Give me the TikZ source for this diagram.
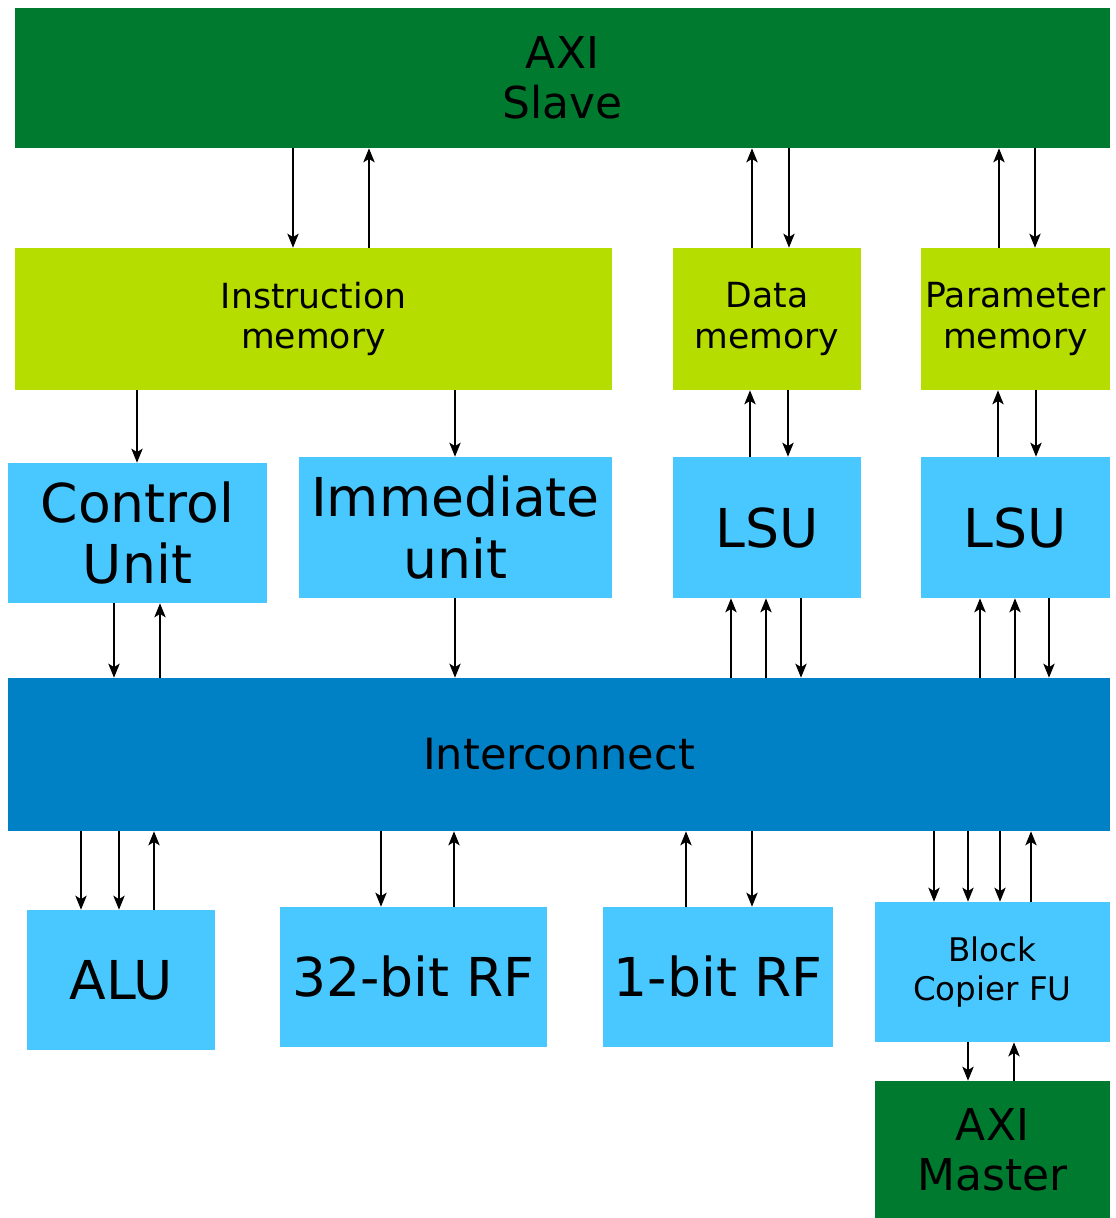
\documentclass[tikz,border=0pt]{standalone}
\usepackage{fontspec}
\setmainfont{DejaVu Sans}
\usetikzlibrary{arrows.meta}

\definecolor{axigreen}{RGB}{0,122,46}
\definecolor{memlime}{RGB}{181,221,0}
\definecolor{fublue}{RGB}{72,200,255}
\definecolor{icblue}{RGB}{0,128,197}

\newcommand\axifont{\fontsize{25}{28.5}\selectfont}
\newcommand\memfont{\fontsize{19.7}{23}\selectfont}
\newcommand\bcfont{\fontsize{18.5}{22}\selectfont}
\newcommand\fufont{\fontsize{30.5}{35}\selectfont}
\newcommand\icfont{\fontsize{24.5}{28}\selectfont}

\begin{document}
\begin{tikzpicture}[x=0.02cm, y=-0.02cm, >={Stealth[length=8pt,width=6.5pt,inset=2pt]},
    box/.style={inner sep=0pt, align=center},
    sz/.style 2 args={minimum width=#1*0.02cm, minimum height=#2*0.02cm},
    link/.style={line width=0.6pt}]
  \useasboundingbox (0,0) rectangle (1116,1218);

  % AXI slave (oben)
  \node[box, fill=axigreen, sz={1095}{140}, font=\axifont] (slave) at (562.5,78) {AXI\\Slave};

  % Speicher
  \node[box, fill=memlime, sz={597}{142}, font=\memfont] (imem) at (313.5,319) {Instruction\\memory};
  \node[box, fill=memlime, sz={188}{142}, font=\memfont] (dmem) at (767,319) {Data\\memory};
  \node[box, fill=memlime, sz={189}{142}, font=\memfont] (pmem) at (1015.5,319) {Parameter\\memory};

  % Einheiten
  \node[box, fill=fublue, sz={259}{140}, font=\fufont] (ctrl) at (137.5,533) {Control\\Unit};
  \node[box, fill=fublue, sz={313}{141}, font=\fufont] (imm) at (455.5,527.5) {Immediate\\unit};
  \node[box, fill=fublue, sz={188}{141}, font=\fufont] (lsua) at (767,527.5) {LSU};
  \node[box, fill=fublue, sz={189}{141}, font=\fufont] (lsub) at (1015.5,527.5) {LSU};

  % Interconnect
  \node[box, fill=icblue, sz={1102}{153}, font=\icfont] (ic) at (559,754.5) {Interconnect};

  % Funktionseinheiten unten
  \node[box, fill=fublue, sz={188}{140}, font=\fufont] (alu) at (121,980) {ALU};
  \node[box, fill=fublue, sz={267}{140}, font=\fufont] (rfwide) at (413.5,977) {32-bit RF};
  \node[box, fill=fublue, sz={230}{140}, font=\fufont] (rfbool) at (718,977) {1-bit RF};
  \node[box, fill=fublue, sz={235}{140}, font=\bcfont] (bcopy) at (992.5,972) {Block\\Copier FU};
  \node[box, fill=axigreen, sz={235}{137}, font=\axifont] (master) at (992.5,1149.5) {AXI\\Master};

  % Slave <-> Speicher
  \foreach \x in {293} \draw[link, ->] (slave.south -| \x,0) -- (imem.north -| \x,0);
  \foreach \x in {369} \draw[link, <-] (slave.south -| \x,0) -- (imem.north -| \x,0);
  \foreach \x in {789} \draw[link, ->] (slave.south -| \x,0) -- (dmem.north -| \x,0);
  \foreach \x in {752} \draw[link, <-] (slave.south -| \x,0) -- (dmem.north -| \x,0);
  \foreach \x in {1035} \draw[link, ->] (slave.south -| \x,0) -- (pmem.north -| \x,0);
  \foreach \x in {999} \draw[link, <-] (slave.south -| \x,0) -- (pmem.north -| \x,0);

  % Speicher <-> Einheiten
  \draw[link, ->] (imem.south -| 137,0) -- (ctrl.north -| 137,0);
  \draw[link, ->] (imem.south -| 455,0) -- (imm.north -| 455,0);
  \draw[link, <-] (dmem.south -| 750,0) -- (lsua.north -| 750,0);
  \draw[link, ->] (dmem.south -| 788,0) -- (lsua.north -| 788,0);
  \draw[link, <-] (pmem.south -| 998,0) -- (lsub.north -| 998,0);
  \draw[link, ->] (pmem.south -| 1036,0) -- (lsub.north -| 1036,0);

  % Einheiten <-> Interconnect
  \draw[link, ->] (ctrl.south -| 114,0) -- (ic.north -| 114,0);
  \draw[link, <-] (ctrl.south -| 160,0) -- (ic.north -| 160,0);
  \draw[link, ->] (imm.south -| 455,0) -- (ic.north -| 455,0);
  \foreach \x in {731, 766} \draw[link, <-] (lsua.south -| \x,0) -- (ic.north -| \x,0);
  \draw[link, ->] (lsua.south -| 801,0) -- (ic.north -| 801,0);
  \foreach \x in {980, 1015} \draw[link, <-] (lsub.south -| \x,0) -- (ic.north -| \x,0);
  \draw[link, ->] (lsub.south -| 1049,0) -- (ic.north -| 1049,0);

  % Interconnect <-> Funktionseinheiten
  \foreach \x in {81, 119} \draw[link, ->] (ic.south -| \x,0) -- (alu.north -| \x,0);
  \draw[link, <-] (ic.south -| 154,0) -- (alu.north -| 154,0);
  \draw[link, ->] (ic.south -| 381,0) -- (rfwide.north -| 381,0);
  \draw[link, <-] (ic.south -| 454,0) -- (rfwide.north -| 454,0);
  \draw[link, <-] (ic.south -| 686,0) -- (rfbool.north -| 686,0);
  \draw[link, ->] (ic.south -| 752,0) -- (rfbool.north -| 752,0);
  \foreach \x in {934, 968, 1000} \draw[link, ->] (ic.south -| \x,0) -- (bcopy.north -| \x,0);
  \draw[link, <-] (ic.south -| 1031,0) -- (bcopy.north -| 1031,0);

  % Block copier <-> AXI master
  \draw[link, ->] (bcopy.south -| 968,0) -- (master.north -| 968,0);
  \draw[link, <-] (bcopy.south -| 1014,0) -- (master.north -| 1014,0);
\end{tikzpicture}
\end{document}
